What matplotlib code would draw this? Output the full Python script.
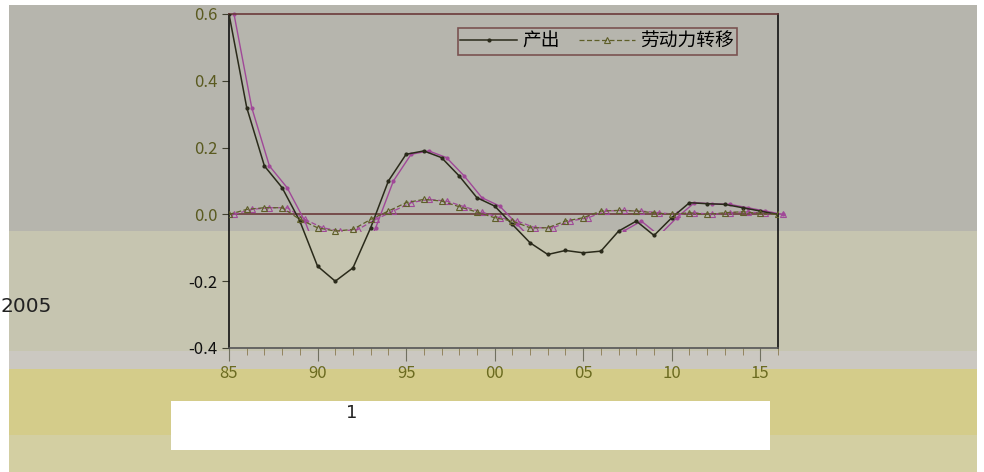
import numpy as np
import matplotlib
matplotlib.use("Agg")
import matplotlib.pyplot as plt
import matplotlib.transforms as mtransforms
from matplotlib.patches import Rectangle

plt.rcParams['font.family'] = ['Noto Sans CJK SC', 'DejaVu Sans']

years = np.arange(1985, 2017)
output = [0.60, 0.32, 0.145, 0.08, -0.02, -0.155, -0.20, -0.16, -0.04, 0.10,
          0.18, 0.19, 0.17, 0.115, 0.05, 0.025, -0.03, -0.085, -0.12, -0.108,
          -0.115, -0.11, -0.05, -0.02, -0.063, -0.01, 0.035, 0.032, 0.03, 0.02,
          0.01, 0.0]
labour = [0.0, 0.015, 0.02, 0.02, -0.015, -0.04, -0.05, -0.045, -0.015, 0.01,
          0.035, 0.045, 0.04, 0.023, 0.007, -0.01, -0.02, -0.04, -0.04, -0.02,
          -0.01, 0.01, 0.012, 0.01, 0.005, 0.0, 0.005, 0.0, 0.005, 0.008,
          0.003, 0.0]
series_names = ["产出", "劳动力转移"]
xticks = [1985, 1990, 1995, 2000, 2005, 2010, 2015]
xticklabels = ["85", "90", "95", "00", "05", "10", "15"]
yticks = [-0.4, -0.2, 0.0, 0.2, 0.4, 0.6]
yticklabels = ["-0.4", "-0.2", "0.0", "0.2", "0.4", "0.6"]

W, H = 984, 472
fig = plt.figure(figsize=(W / 100, H / 100), dpi=100)
fig.patch.set_facecolor("white")


def band(x0, y0, x1, y1, color):
    # pixel box (top-left origin) -> figure fraction
    fig.patches.append(Rectangle((x0 / W, 1 - y1 / H), (x1 - x0) / W, (y1 - y0) / H,
                                 transform=fig.transFigure, facecolor=color,
                                 edgecolor="none", zorder=-10))


band(9, 5, 977, 231, "#b6b5ad")
band(9, 231, 977, 351, "#c6c5b0")
band(9, 351, 977, 369, "#cbc8c1")
band(9, 369, 977, 435, "#d4cc8a")
band(9, 435, 977, 472, "#d3cfa2")
band(171, 401, 770, 450, "white")

ax = fig.add_axes([229 / W, 1 - 348 / H, 549 / W, 334 / H])
ax.set_facecolor("none")

ghost = mtransforms.ScaledTranslation(5 / 100, 0, fig.dpi_scale_trans)
# the magenta double print only shows in the upper grey band
clip = Rectangle((0, (348 - 231) / 334), 1.05, 1.0, transform=ax.transAxes)

g1, = ax.plot(years, output, color="#a04898", lw=1.0, marker="o", ms=2,
              transform=ax.transData + ghost, zorder=2)
g2, = ax.plot(years, labour, color="#a04898", lw=0.9, ls=(0, (4, 2)), marker="^", ms=5,
              mfc="none", mew=0.8, transform=ax.transData + ghost, zorder=2)
for g in (g1, g2):
    g.set_clip_path(clip)

ax.plot(years, output, color="#2a2a1a", lw=1.1, marker="o", ms=2,
        label=series_names[0], zorder=3)
ax.plot(years, labour, color="#5e5e28", lw=0.9, ls=(0, (4, 2)), marker="^", ms=5,
        mfc="none", mew=0.8, label=series_names[1], zorder=3)

ax.axhline(0, color="#6b3a3a", lw=1.2, zorder=1)

ax.set_xlim(1985, 2016)
ax.set_ylim(-0.4, 0.6)

ax.set_xticks(xticks)
ax.set_xticklabels(xticklabels, color="#6b6b20", fontsize=12)
ax.set_xticks(years, minor=True)
ax.tick_params(axis="x", which="major", direction="out", length=9, color="#707060")
ax.tick_params(axis="x", which="minor", direction="out", length=5, color="#8a7a50")
ax.set_yticks(yticks)
ax.set_yticklabels(yticklabels, fontsize=12)
ax.tick_params(axis="y", direction="out", length=5, color="#404030")
for lab, v in zip(ax.get_yticklabels(), yticks):
    lab.set_color("#5a5a20" if v >= 0 else "#111111")

ax.spines["top"].set_color("#6b3a3a")
ax.spines["left"].set_color("#111111")
ax.spines["right"].set_color("#111111")
ax.spines["bottom"].set_color("#555555")
for s in ax.spines.values():
    s.set_linewidth(1.2)

leg = ax.legend(loc="upper right", bbox_to_anchor=((737 - 229) / 549, (348 - 28) / 334),
                ncol=2, frameon=True, fancybox=False, fontsize=13.5, borderaxespad=0,
                handlelength=3.0, columnspacing=1.0, borderpad=0.15, handletextpad=0.3)
leg.get_frame().set_facecolor("none")
leg.get_frame().set_edgecolor("#6b3a3a")
leg.get_frame().set_linewidth(1.2)

fig.text(0 / W, 1 - 307 / H, "2005", fontsize=14.5, color="#222222",
         ha="left", va="center", family=["DejaVu Sans"])
fig.text(352 / W, 1 - 413 / H, "1", fontsize=13, color="#222222",
         ha="center", va="center", family=["DejaVu Sans"])

fig.savefig("out.png", dpi=100)
